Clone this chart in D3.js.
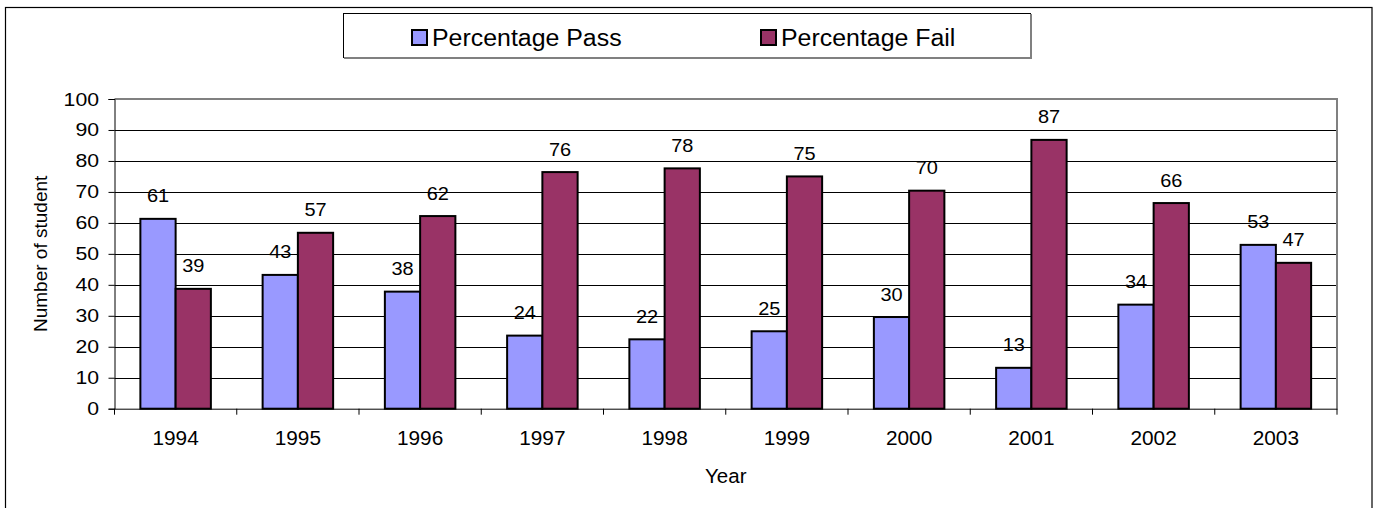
<!DOCTYPE html>
<html><head><meta charset="utf-8">
<script src="https://cdn.jsdelivr.net/npm/d3@7"></script>
<style>html,body{margin:0;padding:0;background:#fff;}svg{display:block;font-family:Arial,"Liberation Sans",sans-serif;}</style>
</head><body><svg id="c" width="1377" height="508"></svg>
<script>
const years = ["1994","1995","1996","1997","1998","1999","2000","2001","2002","2003"];
const passValues = [61.3, 43.2, 37.8, 23.6, 22.4, 25.0, 29.6, 13.2, 33.6, 52.9];
const failValues = [38.7, 56.8, 62.2, 76.4, 77.6, 75.0, 70.4, 86.8, 66.4, 47.1];
const seriesNames = ["Percentage Pass", "Percentage Fail"];
const seriesColors = ["#9999FF", "#993366"];
const yTicks = [0,10,20,30,40,50,60,70,80,90,100];

const svg = d3.select("#c");
const L = 114.5, R = 1337, T = 99, B = 408.7;
const x0 = d3.scaleBand().domain(years).range([L, R]).padding(0);
const x1 = d3.scaleBand().domain([0,1]).range([0, x0.bandwidth()]).paddingInner(0).paddingOuter(0.734);
const y = d3.scaleLinear().domain([0,100]).range([B, T]);

function stxt(g, x, yy, str, size, sx, anchor) {
  return g.append("text").attr("transform",`translate(${x},${yy}) scale(${sx},1)`)
    .attr("text-anchor",anchor||"start").attr("font-size",size).attr("fill","#000").text(str);
}

// outer frame
svg.append("rect").attr("x",5.5).attr("y",7.5).attr("width",1366.5).attr("height",530)
  .attr("fill","none").attr("stroke","#000").attr("stroke-width",1.2);

// gridlines
svg.append("g").selectAll("line").data(yTicks.filter(d=>d>0 && d<100)).join("line")
  .attr("x1",L).attr("x2",R).attr("y1",d=>Math.round(y(d))+0.5).attr("y2",d=>Math.round(y(d))+0.5)
  .attr("stroke","#000").attr("stroke-width",1);

// plot border top/right gray
svg.append("path").attr("d",`M${L},${T} H${R} V${B}`).attr("fill","none")
  .attr("stroke","#808080").attr("stroke-width",2);

// y axis
const yAxis = svg.append("g").attr("transform",`translate(${L},0)`)
  .call(d3.axisLeft(y).tickValues(yTicks).tickSize(6).tickFormat(""));
yAxis.select(".domain").attr("stroke","#000");
yAxis.selectAll("line").attr("stroke","#000");
const yl = svg.append("g");
yTicks.forEach(t => stxt(yl, 99, y(t) + 6.5, d3.format("d")(t), 18, 1.18, "end"));

// x axis
const xAxis = svg.append("g").attr("transform",`translate(0,${B})`)
  .call(d3.axisBottom(x0).tickSize(0).tickFormat(""));
xAxis.select(".domain").attr("stroke","#000");
svg.append("g").selectAll("line").data(d3.range(years.length+1)).join("line")
  .attr("x1",i=>L + i*x0.step()).attr("x2",i=>L + i*x0.step())
  .attr("y1",B).attr("y2",B+6).attr("stroke","#000");
const xl = svg.append("g");
years.forEach(yr => stxt(xl, x0(yr) + x0.bandwidth()/2, 445, yr, 20, 1.04, "middle"));

// bars
const series = [passValues, failValues];
series.forEach((vals, s) => {
  const g = svg.append("g");
  g.selectAll("rect").data(vals).join("rect")
    .attr("x",(d,i)=>x0(years[i]) + x1(s))
    .attr("y",d=>y(d))
    .attr("width",x1.bandwidth())
    .attr("height",d=>B - y(d))
    .attr("fill",seriesColors[s]).attr("stroke","#000").attr("stroke-width",2);
  vals.forEach((d,i) => stxt(g, x0(years[i]) + x1(s) + x1.bandwidth()/2, y(d) - 16.5,
    d3.format(".0f")(d), 19, 1.05, "middle"));
});

// axis titles
stxt(svg, (L+R)/2, 483, "Year", 20.5, 1.0, "middle");
svg.append("text").attr("transform",`translate(46.5,${(T+B)/2}) rotate(-90)`).attr("text-anchor","middle")
  .attr("font-size",19).attr("fill","#000").text("Number of student");

// legend
const lg = svg.append("g");
lg.append("rect").attr("x",343.5).attr("y",13.5).attr("width",687).attr("height",44)
  .attr("fill","#fff").attr("stroke","#000").attr("stroke-width",1);
lg.append("path").attr("d","M344,58 H1031 V14").attr("fill","none").attr("stroke","#808080").attr("stroke-width",2);
const legX = [412, 761];
seriesNames.forEach((n,s)=>{
  lg.append("rect").attr("x",legX[s]).attr("y",30).attr("width",15).attr("height",15)
    .attr("fill",seriesColors[s]).attr("stroke","#000").attr("stroke-width",2);
  stxt(lg, legX[s]+20, 46, n, 23.5, 1.06, "start");
});
</script></body></html>
